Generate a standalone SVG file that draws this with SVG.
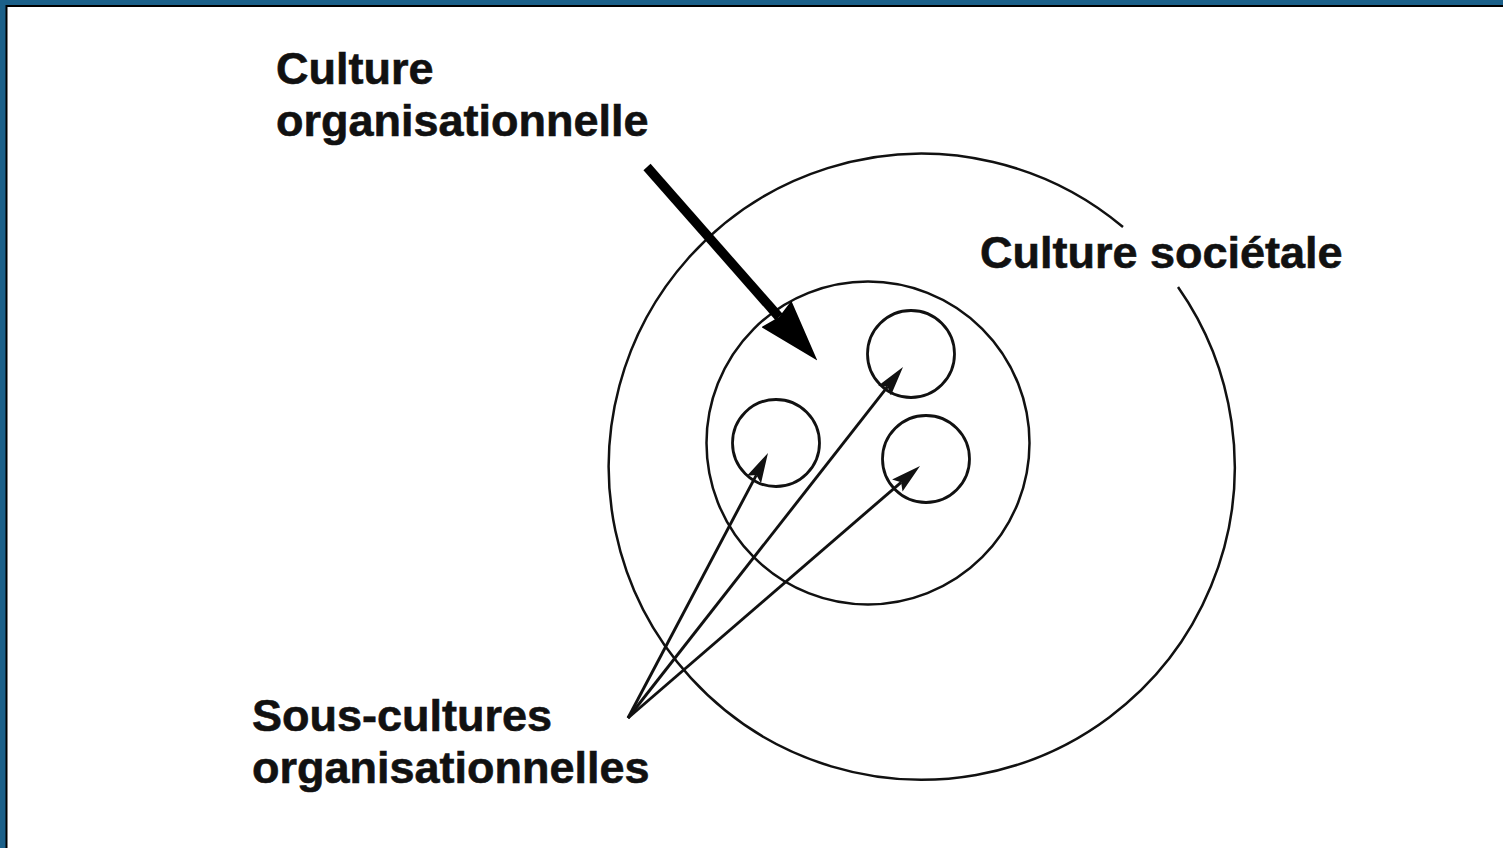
<svg xmlns="http://www.w3.org/2000/svg" width="1503" height="848" viewBox="0 0 1503 848">
  <style>
    .ring { fill: none; stroke: #111; stroke-width: 2.5; }
    .sub { fill: none; stroke: #111; stroke-width: 2.8; }
    .lbl { font-family: "Liberation Sans", Arial, Helvetica, sans-serif; font-weight: bold; font-size: 45px; fill: #111; stroke: #111; stroke-width: 0.6; }
    .thin { stroke: #111; stroke-width: 2.9; fill: none; }
    .thick { stroke: #000; stroke-width: 9.5; fill: none; }
  </style>
  <defs>
    <marker id="headThin" viewBox="0 0 30 16" refX="5" refY="8" markerWidth="30" markerHeight="16" markerUnits="userSpaceOnUse" orient="auto">
      <path d="M0,0 L30,8 L0,16 L5,8 z" fill="#111"/>
    </marker>
    <marker id="headThick" viewBox="0 0 62 40" refX="4" refY="20" markerWidth="62" markerHeight="40" markerUnits="userSpaceOnUse" orient="auto">
      <path d="M0,0 L62,20 L0,40 L4,20 z" fill="#000"/>
    </marker>
  </defs>

  <!-- frame -->
  <rect x="0" y="0" width="1503" height="848" fill="#1b6089"/>
  <rect x="5.5" y="5" width="1497.5" height="843" fill="#000"/>
  <rect x="7.5" y="7" width="1495.5" height="841" fill="#fff"/>

  <!-- societal culture: outer ring, broken where its label sits -->
  <g id="culture-societale">
    <path class="ring" d="M 1178 287 A 313 313 0 1 1 1123 227"/>
    <text class="lbl" x="980" y="268">Culture sociétale</text>
  </g>

  <!-- organisational culture: inner ring -->
  <g id="culture-organisationnelle">
    <circle class="ring" cx="868" cy="443" r="161.5"/>
    <text class="lbl" x="276" y="84">Culture</text>
    <text class="lbl" x="276" y="136">organisationnelle</text>
  </g>

  <!-- organisational subcultures -->
  <g id="sous-culture-1"><circle class="sub" cx="776" cy="443" r="43.5"/></g>
  <g id="sous-culture-2"><circle class="sub" cx="911" cy="354" r="43.5"/></g>
  <g id="sous-culture-3"><circle class="sub" cx="926" cy="459" r="43.5"/></g>

  <g id="sous-cultures-label">
    <text class="lbl" x="252" y="731">Sous-cultures</text>
    <text class="lbl" x="252" y="783">organisationnelles</text>
  </g>

  <!-- connectors -->
  <g id="connectors">
    <line class="thick" x1="647" y1="167" x2="779" y2="317" marker-end="url(#headThick)"/>
    <line class="thin" x1="628" y1="718" x2="756.3" y2="475.1" marker-end="url(#headThin)"/>
    <line class="thin" x1="628" y1="718" x2="887.6" y2="386.7" marker-end="url(#headThin)"/>
    <line class="thin" x1="628" y1="718" x2="901.1" y2="482.3" marker-end="url(#headThin)"/>
  </g>
</svg>
